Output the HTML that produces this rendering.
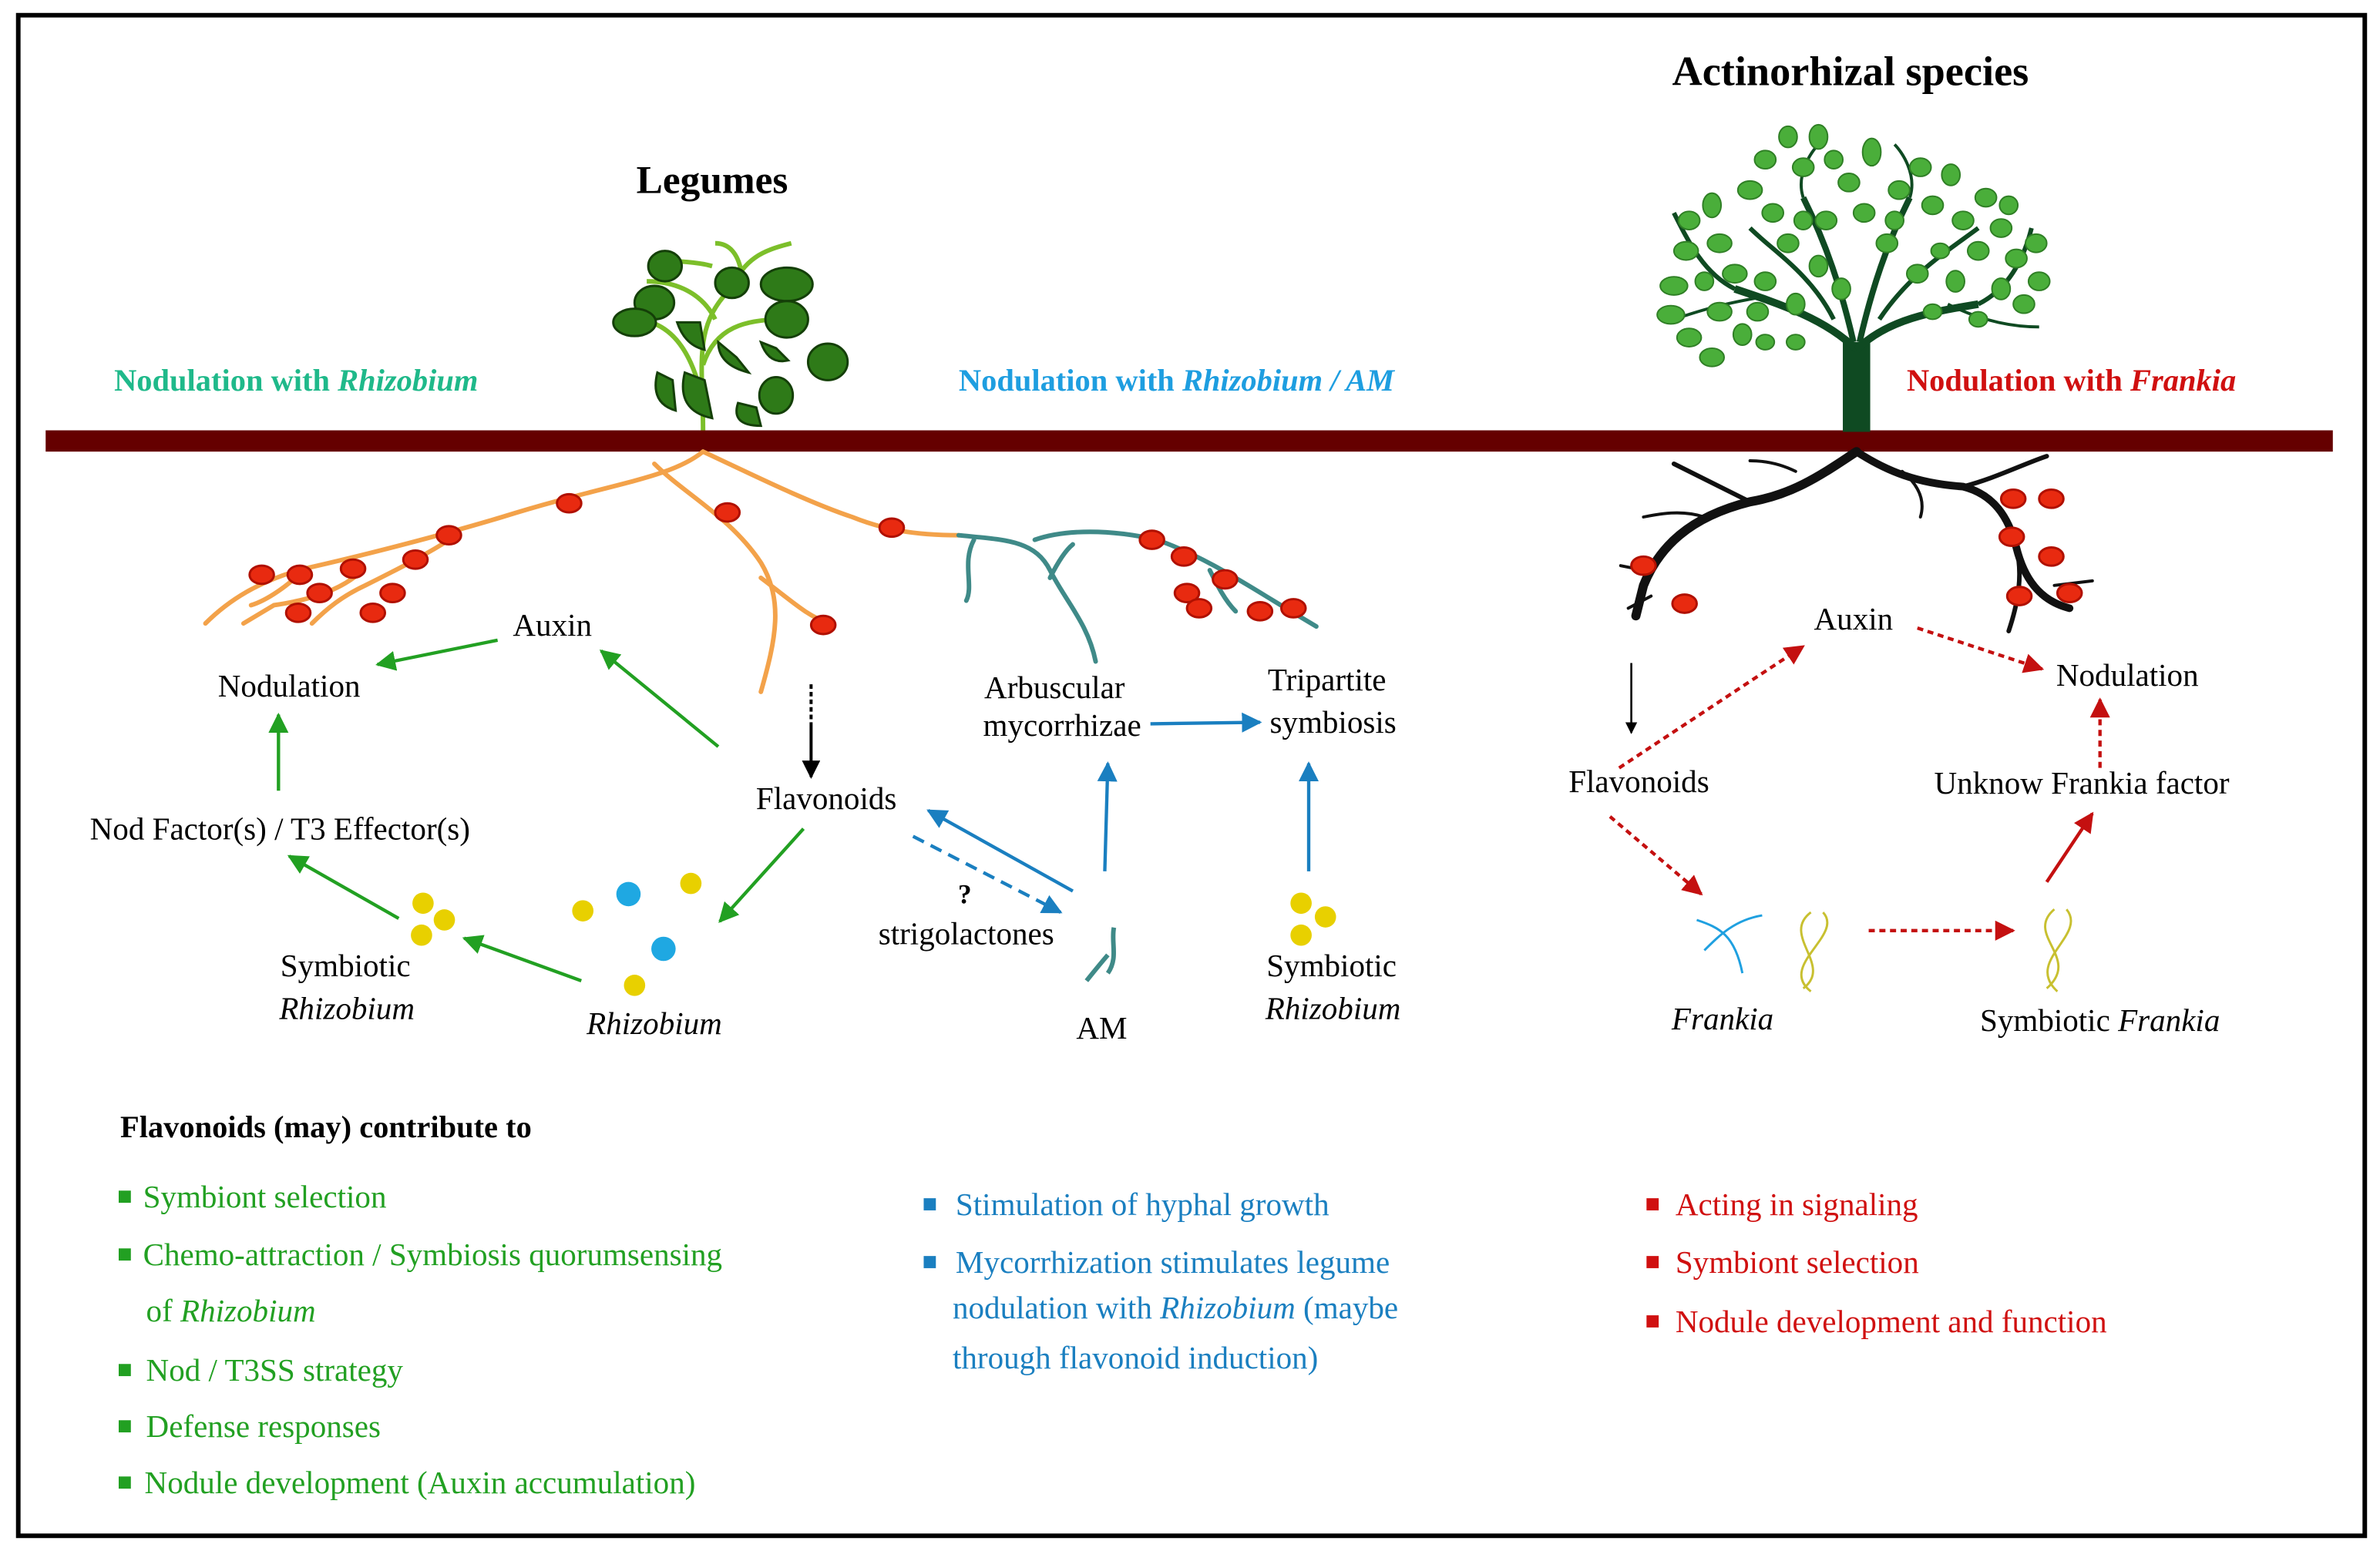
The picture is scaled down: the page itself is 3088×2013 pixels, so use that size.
<!DOCTYPE html>
<html><head><meta charset="utf-8"><style>
html,body{margin:0;padding:0;background:#fff;}
svg{display:block;}
text{font-family:"Liberation Serif",serif;}
</style></head><body>
<svg width="3088" height="2013" viewBox="0 0 1564 1020" preserveAspectRatio="none" xmlns="http://www.w3.org/2000/svg">
<defs>
<marker id="ag" viewBox="0 0 10 10" refX="9" refY="5" markerWidth="6" markerHeight="6" orient="auto"><path d="M0,0 L10,5 L0,10 z" fill="#22a022"/></marker>
<marker id="ab" viewBox="0 0 10 10" refX="9" refY="5" markerWidth="6" markerHeight="6" orient="auto"><path d="M0,0 L10,5 L0,10 z" fill="#1a7fc0"/></marker>
<marker id="ar" viewBox="0 0 10 10" refX="9" refY="5" markerWidth="6" markerHeight="6" orient="auto"><path d="M0,0 L10,5 L0,10 z" fill="#c41010"/></marker>
<marker id="ak" viewBox="0 0 10 10" refX="9" refY="5" markerWidth="6" markerHeight="6" orient="auto"><path d="M0,0 L10,5 L0,10 z" fill="#000"/></marker>
</defs>
<rect x="12" y="10" width="1542" height="1000" fill="#fff" stroke="#000" stroke-width="3"/>

<!-- titles -->
<text x="468" y="127" font-size="26" font-weight="bold" text-anchor="middle">Legumes</text>
<text x="1216" y="56" font-size="27.5" font-weight="bold" text-anchor="middle">Actinorhizal species</text>
<text x="75" y="257" font-size="20.5" font-weight="bold" fill="#1fb98a">Nodulation with <tspan font-style="italic">Rhizobium</tspan></text>
<text x="630" y="257" font-size="20.5" font-weight="bold" fill="#1e9ee0">Nodulation with <tspan font-style="italic">Rhizobium / AM</tspan></text>
<text x="1253" y="257" font-size="20.5" font-weight="bold" fill="#d01010">Nodulation with <tspan font-style="italic">Frankia</tspan></text>

<!-- legume plant -->
<g stroke="#7cbf2a" stroke-width="3" fill="none">
<path d="M462,283 C462,240 455,215 480,190"/>
<path d="M480,190 C490,170 500,165 520,160"/>
<path d="M462,240 C470,215 490,210 515,210"/>
<path d="M462,265 C455,230 440,210 415,210"/>
<path d="M470,210 C460,190 440,185 425,185"/>
<path d="M468,175 C450,170 440,175 436,165"/>
<path d="M487,178 C485,168 480,160 470,160"/>
</g>
<g fill="#2e7a18" stroke="#143f08" stroke-width="1.5">
<ellipse cx="437" cy="175" rx="11" ry="10"/>
<ellipse cx="430" cy="199" rx="13" ry="11"/>
<ellipse cx="417" cy="212" rx="14" ry="9"/>
<ellipse cx="481" cy="186" rx="11" ry="10"/>
<ellipse cx="517" cy="187" rx="17" ry="11"/>
<ellipse cx="517" cy="210" rx="14" ry="12"/>
<ellipse cx="544" cy="238" rx="13" ry="12"/>
<ellipse cx="510" cy="260" rx="11" ry="12"/>
<path d="M445,212 q5,15 18,18 l-3,-18z"/>
<path d="M450,245 q-6,25 18,30 l-5,-25z"/>
<path d="M432,245 q-5,20 12,25 l-2,-20z"/>
<path d="M472,225 q0,15 20,20 l-8,-10z"/>
<path d="M485,265 q-5,15 15,15 l-3,-12z"/>
<path d="M500,225 q5,15 18,12 l-8,-8z"/>
</g>

<!-- soil bar -->
<rect x="30" y="283" width="1503" height="14" fill="#650000"/>

<!-- legume roots -->
<g stroke="#f3a24a" stroke-width="3" fill="none" stroke-linecap="round">
<path d="M462,297 C440,315 400,318 330,340 C290,352 240,365 200,374 C170,382 150,395 135,410"/>
<path d="M300,352 C280,365 260,375 240,385 C225,392 215,400 205,410"/>
<path d="M235,378 C220,390 200,395 180,398 L160,410"/>
<path d="M200,374 C190,385 175,395 165,398"/>
<path d="M430,305 C450,325 480,340 500,370 C515,395 510,420 500,455"/>
<path d="M500,380 C520,395 530,405 545,410"/>
<path d="M462,297 C490,310 530,330 560,340 C580,348 600,352 630,352"/>
</g>
<g stroke="#3f8a88" stroke-width="3" fill="none" stroke-linecap="round">
<path d="M630,352 C660,355 680,355 690,375 C700,395 715,410 720,435"/>
<path d="M640,355 C632,370 640,385 635,395"/>
<path d="M690,380 C695,370 700,362 705,358"/>
<path d="M680,355 C700,348 730,348 760,355 C790,365 820,385 845,400 L865,412"/>
<path d="M795,375 C800,385 805,395 812,402"/>
</g>
<g fill="#e82a10" stroke="#b01000" stroke-width="1.5">
<ellipse cx="172" cy="378" rx="8" ry="6"/><ellipse cx="197" cy="378" rx="8" ry="6"/>
<ellipse cx="210" cy="390" rx="8" ry="6"/><ellipse cx="196" cy="403" rx="8" ry="6"/>
<ellipse cx="232" cy="374" rx="8" ry="6"/><ellipse cx="258" cy="390" rx="8" ry="6"/>
<ellipse cx="245" cy="403" rx="8" ry="6"/><ellipse cx="273" cy="368" rx="8" ry="6"/>
<ellipse cx="295" cy="352" rx="8" ry="6"/><ellipse cx="374" cy="331" rx="8" ry="6"/>
<ellipse cx="478" cy="337" rx="8" ry="6"/><ellipse cx="541" cy="411" rx="8" ry="6"/>
<ellipse cx="586" cy="347" rx="8" ry="6"/><ellipse cx="757" cy="355" rx="8" ry="6"/>
<ellipse cx="778" cy="366" rx="8" ry="6"/><ellipse cx="805" cy="381" rx="8" ry="6"/>
<ellipse cx="780" cy="390" rx="8" ry="6"/><ellipse cx="788" cy="400" rx="8" ry="6"/>
<ellipse cx="828" cy="402" rx="8" ry="6"/><ellipse cx="850" cy="400" rx="8" ry="6"/>
</g>

<!-- tree -->
<g stroke="#0f4a22" fill="none" stroke-linecap="butt">
<path d="M1220,284 L1220,225" stroke-width="18"/>
<path d="M1220,230 C1200,210 1170,200 1140,190" stroke-width="5"/>
<path d="M1220,230 C1240,210 1270,205 1300,200" stroke-width="5"/>
<path d="M1218,225 C1210,190 1200,160 1185,130" stroke-width="4"/>
<path d="M1222,225 C1230,190 1240,160 1255,130" stroke-width="4"/>
<path d="M1140,190 C1120,180 1110,160 1100,140" stroke-width="3"/>
<path d="M1300,200 C1320,190 1330,170 1335,150" stroke-width="3"/>
<path d="M1205,210 C1190,180 1165,165 1150,150" stroke-width="3"/>
<path d="M1235,210 C1255,180 1280,165 1300,150" stroke-width="3"/>
<path d="M1185,130 C1180,115 1190,100 1195,95" stroke-width="2"/>
<path d="M1255,130 C1260,115 1250,100 1245,95" stroke-width="2"/>
<path d="M1160,195 C1130,200 1115,205 1100,210" stroke-width="2"/>
<path d="M1280,200 C1300,210 1320,215 1340,215" stroke-width="2"/>
</g>
<g fill="#4aae3a" stroke="#2f7f25" stroke-width="1">
<ellipse cx="1098" cy="207" rx="9" ry="6"/><ellipse cx="1110" cy="222" rx="8" ry="6"/><ellipse cx="1100" cy="188" rx="9" ry="6"/>
<ellipse cx="1108" cy="165" rx="8" ry="6"/><ellipse cx="1110" cy="145" rx="7" ry="6"/><ellipse cx="1125" cy="135" rx="6" ry="8"/>
<ellipse cx="1130" cy="160" rx="8" ry="6"/><ellipse cx="1140" cy="180" rx="8" ry="6"/><ellipse cx="1130" cy="205" rx="8" ry="6"/>
<ellipse cx="1125" cy="235" rx="8" ry="6"/><ellipse cx="1150" cy="125" rx="8" ry="6"/><ellipse cx="1160" cy="105" rx="7" ry="6"/>
<ellipse cx="1175" cy="90" rx="6" ry="7"/><ellipse cx="1195" cy="90" rx="6" ry="8"/><ellipse cx="1185" cy="110" rx="7" ry="6"/>
<ellipse cx="1165" cy="140" rx="7" ry="6"/><ellipse cx="1175" cy="160" rx="7" ry="6"/><ellipse cx="1160" cy="185" rx="7" ry="6"/>
<ellipse cx="1155" cy="205" rx="7" ry="6"/><ellipse cx="1180" cy="200" rx="6" ry="7"/><ellipse cx="1195" cy="175" rx="6" ry="7"/>
<ellipse cx="1200" cy="145" rx="7" ry="6"/><ellipse cx="1215" cy="120" rx="7" ry="6"/><ellipse cx="1230" cy="100" rx="6" ry="9"/>
<ellipse cx="1225" cy="140" rx="7" ry="6"/><ellipse cx="1240" cy="160" rx="7" ry="6"/><ellipse cx="1248" cy="125" rx="7" ry="6"/>
<ellipse cx="1262" cy="110" rx="7" ry="6"/><ellipse cx="1270" cy="135" rx="7" ry="6"/><ellipse cx="1260" cy="180" rx="7" ry="6"/>
<ellipse cx="1282" cy="115" rx="6" ry="7"/><ellipse cx="1290" cy="145" rx="7" ry="6"/><ellipse cx="1305" cy="130" rx="7" ry="6"/>
<ellipse cx="1300" cy="165" rx="7" ry="6"/><ellipse cx="1315" cy="150" rx="7" ry="6"/><ellipse cx="1325" cy="170" rx="7" ry="6"/>
<ellipse cx="1338" cy="160" rx="7" ry="6"/><ellipse cx="1340" cy="185" rx="7" ry="6"/><ellipse cx="1330" cy="200" rx="7" ry="6"/>
<ellipse cx="1315" cy="190" rx="6" ry="7"/><ellipse cx="1285" cy="185" rx="6" ry="7"/><ellipse cx="1210" cy="190" rx="6" ry="7"/>
<ellipse cx="1145" cy="220" rx="6" ry="7"/><ellipse cx="1180" cy="225" rx="6" ry="5"/><ellipse cx="1275" cy="165" rx="6" ry="5"/>
<ellipse cx="1205" cy="105" rx="6" ry="6"/><ellipse cx="1245" cy="145" rx="6" ry="6"/><ellipse cx="1185" cy="145" rx="6" ry="6"/>
<ellipse cx="1120" cy="185" rx="6" ry="6"/><ellipse cx="1320" cy="135" rx="6" ry="6"/><ellipse cx="1300" cy="210" rx="6" ry="5"/>
<ellipse cx="1160" cy="225" rx="6" ry="5"/><ellipse cx="1270" cy="205" rx="6" ry="5"/>
</g>

<!-- actinorhizal roots -->
<g stroke="#111" fill="none" stroke-linecap="round">
<path d="M1220,297 C1200,310 1180,325 1150,330 C1110,340 1090,360 1080,385 L1075,405" stroke-width="6"/>
<path d="M1220,297 C1240,310 1260,318 1290,320 C1310,325 1320,340 1325,360 C1330,380 1340,395 1360,400" stroke-width="5"/>
<path d="M1150,330 C1130,320 1110,310 1100,305" stroke-width="3"/>
<path d="M1120,340 C1105,335 1090,338 1080,340" stroke-width="2"/>
<path d="M1290,320 C1310,315 1330,305 1345,300" stroke-width="3"/>
<path d="M1325,360 C1330,380 1325,400 1320,415" stroke-width="3"/>
<path d="M1080,375 L1065,372" stroke-width="2"/>
<path d="M1085,392 L1070,400" stroke-width="2"/>
<path d="M1350,385 L1375,382" stroke-width="2"/>
<path d="M1250,310 C1262,320 1265,330 1262,340" stroke-width="2"/>
<path d="M1180,310 C1170,305 1160,303 1150,303" stroke-width="2"/>
</g>
<g fill="#e82a10" stroke="#b01000" stroke-width="1.5">
<ellipse cx="1080" cy="372" rx="8" ry="6"/><ellipse cx="1107" cy="397" rx="8" ry="6"/>
<ellipse cx="1323" cy="328" rx="8" ry="6"/><ellipse cx="1348" cy="328" rx="8" ry="6"/>
<ellipse cx="1322" cy="353" rx="8" ry="6"/><ellipse cx="1348" cy="366" rx="8" ry="6"/>
<ellipse cx="1360" cy="390" rx="8" ry="6"/><ellipse cx="1327" cy="392" rx="8" ry="6"/>
</g>

<!-- labels -->
<g font-size="20.8" text-anchor="middle">
<text x="363" y="418">Auxin</text>
<text x="190" y="458">Nodulation</text>
<text x="184" y="552">Nod Factor(s) / T3 Effector(s)</text>
<text x="543" y="532">Flavonoids</text>
<text x="227" y="642">Symbiotic</text>
<text x="228" y="670" font-style="italic">Rhizobium</text>
<text x="430" y="680" font-style="italic">Rhizobium</text>
<text x="634" y="594" font-weight="bold" font-size="18">?</text>
<text x="635" y="621">strigolactones</text>
<text x="724" y="683">AM</text>
<text x="693" y="459">Arbuscular</text>
<text x="698" y="484">mycorrhizae</text>
<text x="872" y="454">Tripartite</text>
<text x="876" y="482">symbiosis</text>
<text x="875" y="642">Symbiotic</text>
<text x="876" y="670" font-style="italic">Rhizobium</text>
<text x="1218" y="414">Auxin</text>
<text x="1398" y="451">Nodulation</text>
<text x="1077" y="521">Flavonoids</text>
<text x="1368" y="522">Unknow Frankia factor</text>
<text x="1132" y="677" font-style="italic">Frankia</text>
<text x="1380" y="678">Symbiotic <tspan font-style="italic">Frankia</tspan></text>
</g>

<!-- dots -->
<g fill="#e8d000">
<circle cx="278" cy="594" r="7"/><circle cx="292" cy="605" r="7"/><circle cx="277" cy="615" r="7"/>
<circle cx="383" cy="599" r="7"/><circle cx="454" cy="581" r="7"/><circle cx="417" cy="648" r="7"/>
<circle cx="855" cy="594" r="7"/><circle cx="871" cy="603" r="7"/><circle cx="855" cy="615" r="7"/>
</g>
<g fill="#1fa8e2"><circle cx="413" cy="588" r="8"/><circle cx="436" cy="624" r="8"/></g>

<!-- AM hypha -->
<path d="M732,610 C730,620 735,630 728,640 M728,628 C722,635 718,640 714,645" stroke="#3f8a88" stroke-width="3" fill="none"/>

<!-- Frankia -->
<g fill="none" stroke-width="1.5">
<path d="M1115,605 C1130,610 1140,615 1145,640 M1120,625 C1130,615 1140,605 1158,602" stroke="#1fa0e0"/>
<path d="M1190,600 C1170,615 1205,635 1185,650 M1198,600 C1212,615 1168,635 1190,652" stroke="#c8c030"/>
<path d="M1350,598 C1330,615 1368,630 1345,650 M1358,598 C1372,615 1330,632 1352,652" stroke="#c8c030"/>
</g>

<!-- green arrows -->
<g stroke="#22a022" stroke-width="2.2" marker-end="url(#ag)">
<line x1="327" y1="421" x2="248" y2="437"/>
<line x1="472" y1="491" x2="395" y2="428"/>
<line x1="183" y1="520" x2="183" y2="470"/>
<line x1="262" y1="604" x2="190" y2="563"/>
<line x1="382" y1="645" x2="305" y2="617"/>
<line x1="528" y1="545" x2="473" y2="606"/>
</g>
<line x1="533" y1="450" x2="533" y2="475" stroke="#000" stroke-width="2" stroke-dasharray="3,2"/>
<line x1="533" y1="475" x2="533" y2="511" stroke="#000" stroke-width="2" marker-end="url(#ak)"/>
<line x1="1072" y1="436" x2="1072" y2="482" stroke="#000" stroke-width="1.3" marker-end="url(#ak)"/>

<!-- blue arrows -->
<g stroke="#1a7fc0" stroke-width="2.2">
<line x1="705" y1="586" x2="610" y2="533" marker-end="url(#ab)"/>
<line x1="600" y1="550" x2="697" y2="600" stroke-dasharray="8,5" marker-end="url(#ab)"/>
<line x1="726" y1="573" x2="728" y2="502" marker-end="url(#ab)"/>
<line x1="756" y1="476" x2="828" y2="475" marker-end="url(#ab)"/>
<line x1="860" y1="573" x2="860" y2="502" marker-end="url(#ab)"/>
</g>

<!-- red arrows -->
<g stroke="#c41010" stroke-width="2.2">
<line x1="1064" y1="505" x2="1185" y2="425" stroke-dasharray="4,3" marker-end="url(#ar)"/>
<line x1="1260" y1="413" x2="1342" y2="440" stroke-dasharray="4,3" marker-end="url(#ar)"/>
<line x1="1380" y1="505" x2="1380" y2="460" stroke-dasharray="4,3" marker-end="url(#ar)"/>
<line x1="1058" y1="537" x2="1118" y2="588" stroke-dasharray="4,3" marker-end="url(#ar)"/>
<line x1="1228" y1="612" x2="1323" y2="612" stroke-dasharray="4,3" marker-end="url(#ar)"/>
<line x1="1345" y1="580" x2="1375" y2="535" marker-end="url(#ar)"/>
</g>

<!-- bottom lists -->
<text x="79" y="748" font-size="20.5" font-weight="bold">Flavonoids (may) contribute to</text>
<g fill="#22a022" font-size="20.8">
<rect x="78" y="783" width="8" height="8"/><text x="94" y="794">Symbiont selection</text>
<rect x="78" y="821" width="8" height="8"/><text x="94" y="832">Chemo-attraction / Symbiosis quorumsensing</text>
<text x="96" y="869">of <tspan font-style="italic">Rhizobium</tspan></text>
<rect x="78" y="897" width="8" height="8"/><text x="96" y="908">Nod / T3SS strategy</text>
<rect x="78" y="934" width="8" height="8"/><text x="96" y="945">Defense responses</text>
<rect x="78" y="971" width="8" height="8"/><text x="95" y="982">Nodule development (Auxin accumulation)</text>
</g>
<g fill="#1a7fc0" font-size="20.8">
<rect x="607" y="788" width="8" height="8"/><text x="628" y="799">Stimulation of hyphal growth</text>
<rect x="607" y="826" width="8" height="8"/><text x="628" y="837">Mycorrhization stimulates legume</text>
<text x="626" y="867">nodulation with <tspan font-style="italic">Rhizobium</tspan> (maybe</text>
<text x="626" y="900">through flavonoid induction)</text>
</g>
<g fill="#d01010" font-size="20.8">
<rect x="1082" y="788" width="8" height="8"/><text x="1101" y="799">Acting in signaling</text>
<rect x="1082" y="826" width="8" height="8"/><text x="1101" y="837">Symbiont selection</text>
<rect x="1082" y="865" width="8" height="8"/><text x="1101" y="876">Nodule development and function</text>
</g>
</svg>
</body></html>
